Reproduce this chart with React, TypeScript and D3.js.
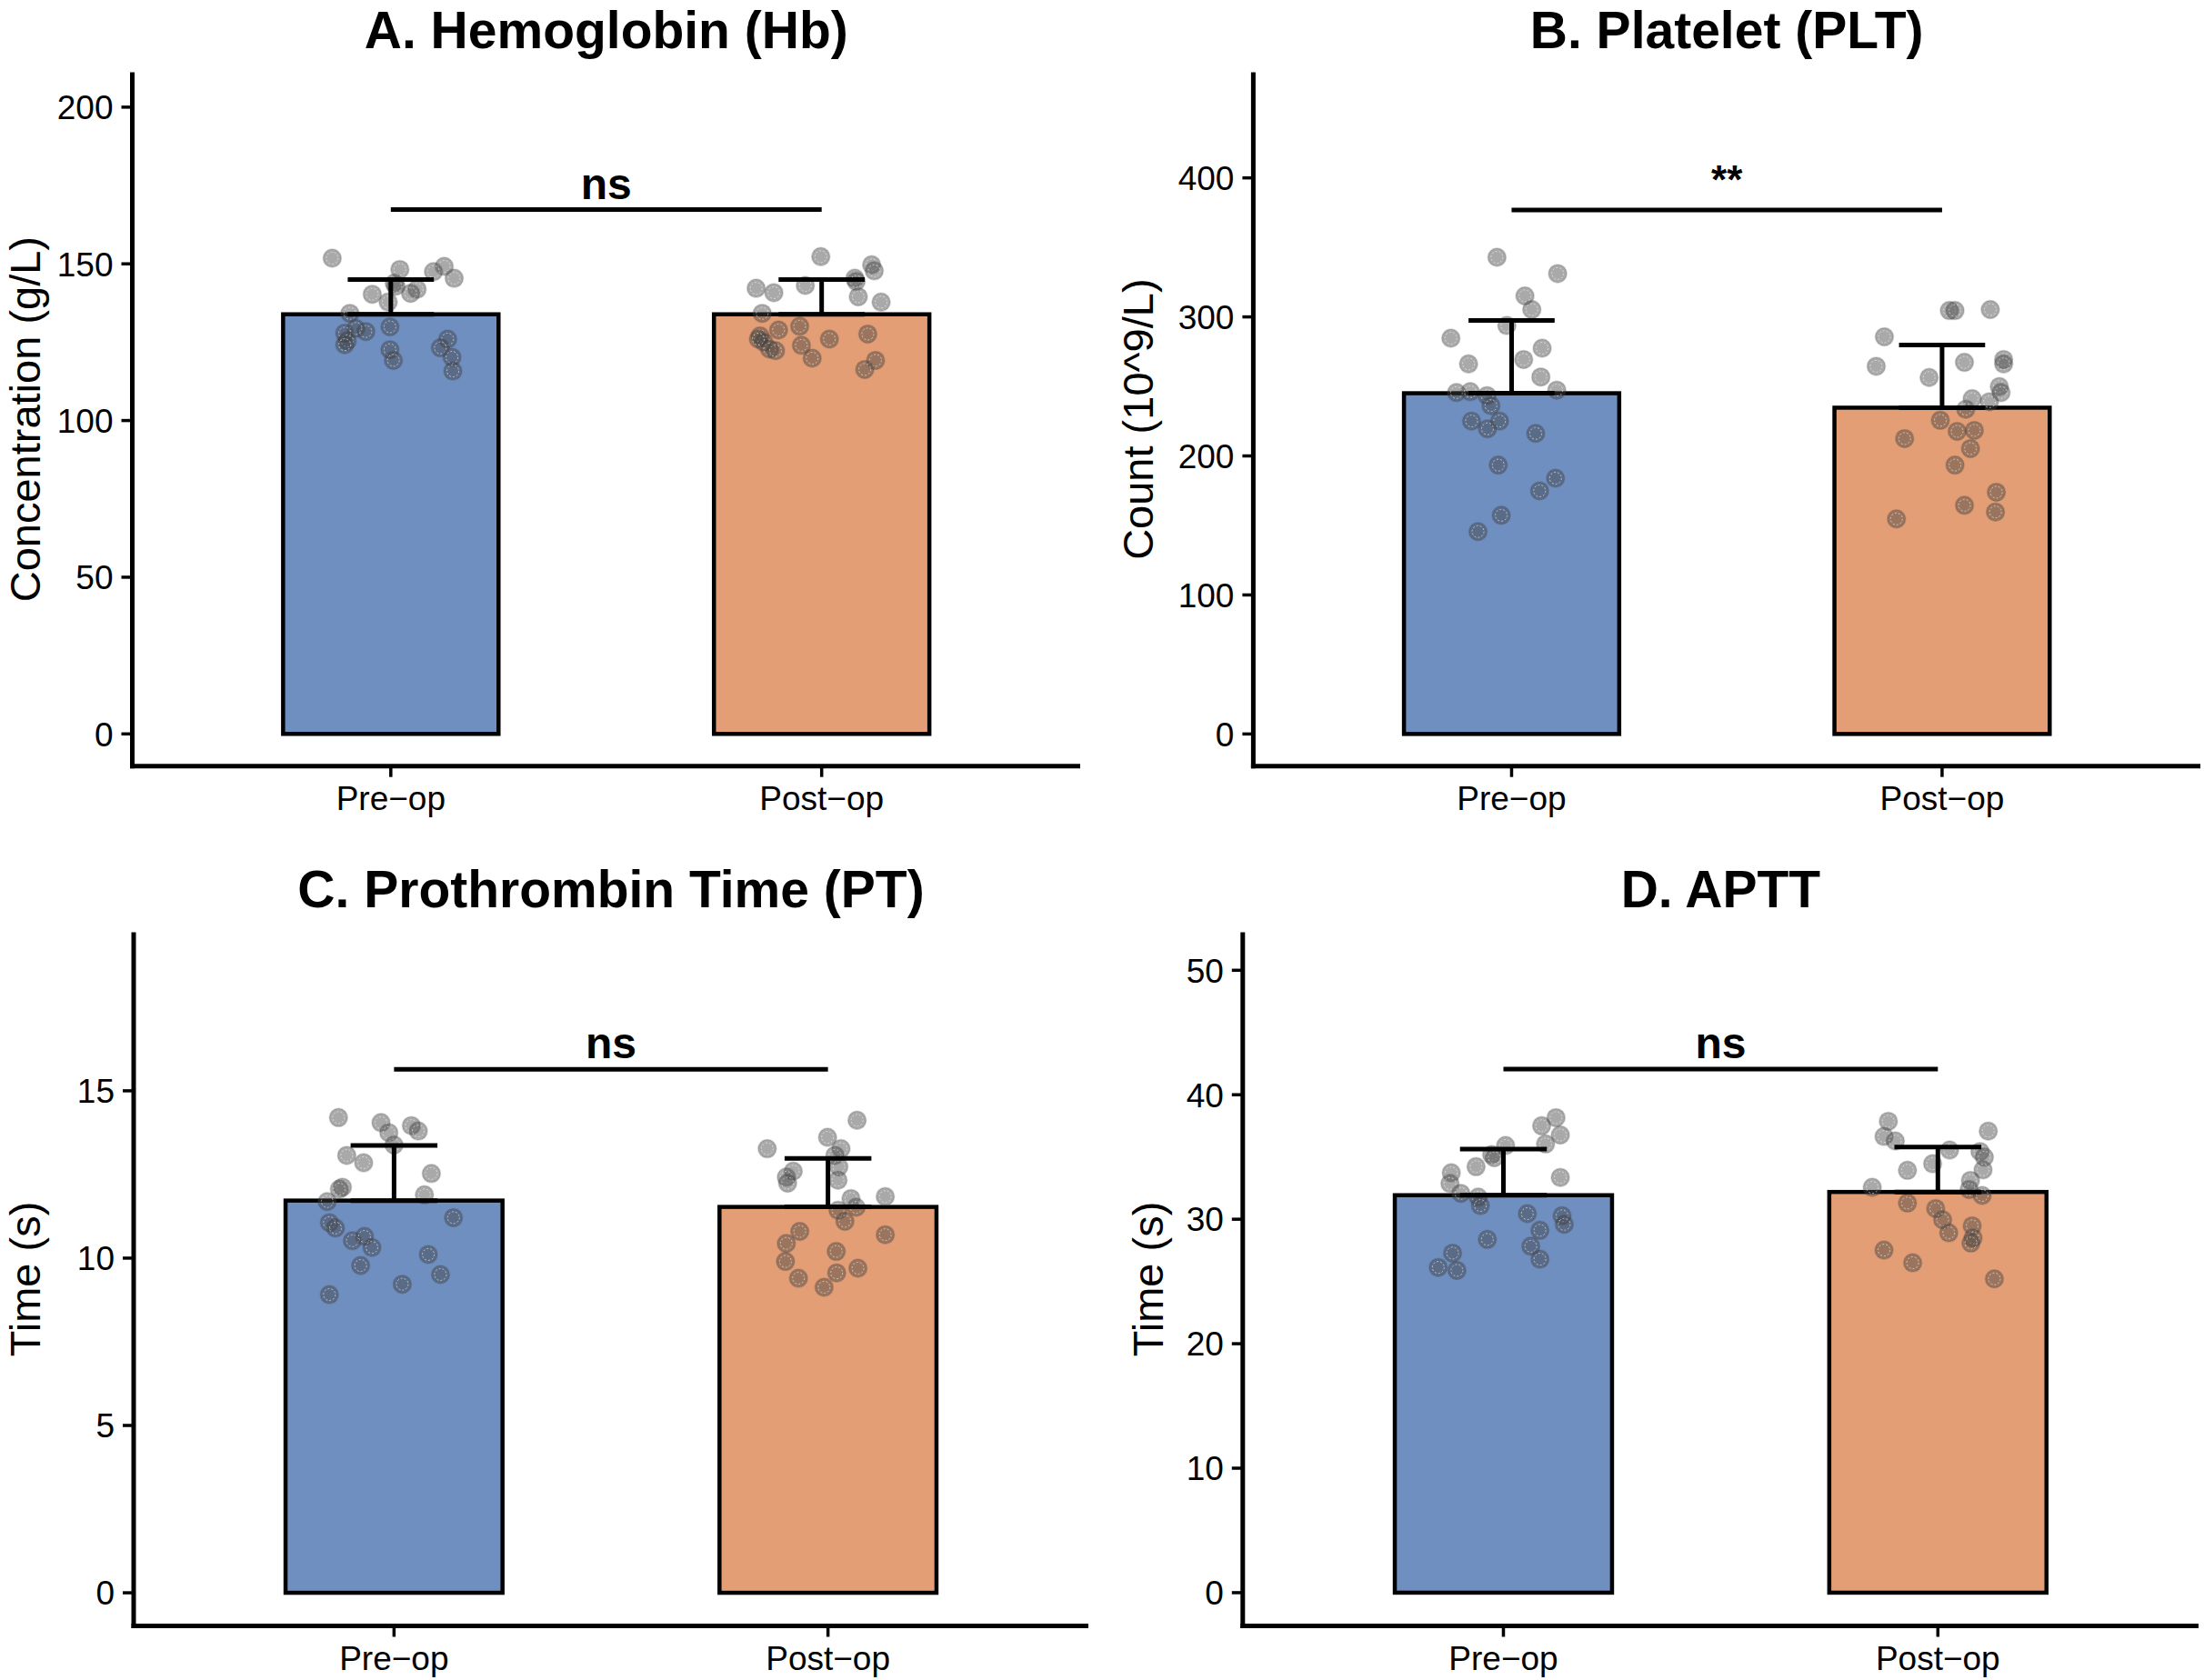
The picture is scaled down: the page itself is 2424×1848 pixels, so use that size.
import * as d3 from 'd3';

// ---- data ----
const groups = ['Pre−op', 'Post−op'];
const titles = ['A. Hemoglobin (Hb)', 'B. Platelet (PLT)', 'C. Prothrombin Time (PT)', 'D. APTT'];
const yTitles = ['Concentration (g/L)', 'Count (10^9/L)', 'Time (s)', 'Time (s)'];

// bar heights (group means) and top of the error bar (mean + SD)
const means = [
  [133.9, 133.9],
  [245.1, 234.7],
  [11.72, 11.53],
  [31.93, 32.19],
];
const upper = [
  [145.0, 145.0],
  [297.5, 279.8],
  [13.37, 12.98],
  [35.63, 35.8],
];

const sigLabels = ['ns', '**', 'ns', 'ns'];
const sigLevels = [167.3, 376.9, 15.64, 42.07];

const yTicks = [
  [0, 50, 100, 150, 200],
  [0, 100, 200, 300, 400],
  [0, 5, 10, 15],
  [0, 10, 20, 30, 40, 50],
];
const yDomains = [
  [-10.27, 211.1],
  [-23.1, 475.9],
  [-0.99, 19.74],
  [-2.67, 53.06],
];

// individual patients
const hbPre = [151.8, 148.2, 149.2, 147.5, 145.4, 143.8, 140.3, 141.9, 140.6, 137.8, 134.2, 129.9, 128.4, 129.4, 127.9, 125.4, 124.2, 126.0, 123.2, 122.6, 120.2, 119.2, 115.8, 142.9];
const hbPreJit = [-0.136, 0.021, 0.124, 0.099, 0.147, 0.008, -0.043, 0.061, 0.046, -0.006, -0.095, -0.002, -0.058, -0.081, -0.107, -0.101, -0.107, 0.132, 0.115, -0.002, 0.142, 0.006, 0.144, 0.012];
const hbPost = [152.3, 149.7, 147.8, 145.4, 139.5, 143.1, 142.2, 140.8, 137.8, 134.2, 128.9, 130.1, 127.0, 125.0, 122.8, 122.3, 126.0, 127.6, 124.0, 119.9, 119.2, 116.3, 144.4, 126.0];
const hbPostJit = [-0.002, 0.116, 0.122, 0.077, 0.085, -0.038, -0.152, -0.111, 0.138, -0.138, -0.1, -0.051, -0.143, -0.134, -0.121, -0.107, 0.018, 0.107, -0.047, -0.022, 0.125, 0.1, 0.08, -0.147];

const pltPre = [342.9, 331.2, 315.1, 305.3, 293.8, 284.7, 277.5, 266.2, 269.4, 256.8, 247.3, 245.6, 246.2, 243.4, 236.2, 225.1, 225.1, 219.5, 216.2, 193.4, 184.0, 174.9, 157.3, 145.6];
const pltPreJit = [-0.034, 0.107, 0.031, 0.047, -0.011, -0.141, 0.071, -0.1, 0.028, 0.068, 0.105, -0.128, -0.096, -0.057, -0.048, -0.093, -0.028, -0.056, 0.056, -0.031, 0.102, 0.065, -0.024, -0.078];
const pltPost = [304.6, 304.6, 305.3, 285.7, 264.5, 267.3, 269.4, 266.2, 256.4, 249.9, 245.6, 241.2, 239.0, 233.6, 225.6, 217.7, 218.4, 212.5, 205.3, 193.4, 173.9, 164.5, 159.7, 154.7];
const pltPostJit = [0.017, 0.03, 0.112, -0.134, -0.153, 0.052, 0.143, 0.143, -0.03, 0.133, 0.137, 0.07, 0.11, 0.055, -0.004, 0.035, 0.075, -0.087, 0.066, 0.03, 0.126, 0.052, 0.124, -0.106];

const ptPre = [14.2, 14.05, 13.96, 13.8, 13.75, 13.38, 13.07, 12.85, 12.53, 12.12, 12.06, 11.69, 11.89, 11.06, 10.9, 10.52, 10.65, 10.32, 11.21, 10.11, 9.78, 9.51, 9.22, 8.91];
const ptPreJit = [-0.128, -0.03, 0.04, 0.056, -0.012, 0.0, -0.109, -0.07, 0.086, -0.119, -0.126, -0.154, 0.07, -0.149, -0.135, -0.096, -0.068, -0.051, 0.137, 0.079, -0.077, 0.107, 0.019, -0.149];
const ptPost = [14.12, 13.61, 13.27, 13.27, 13.07, 12.73, 12.6, 12.42, 12.24, 12.33, 11.84, 11.78, 11.52, 11.43, 11.1, 10.8, 10.7, 10.44, 10.2, 9.9, 9.7, 9.56, 9.4, 9.13];
const ptPostJit = [0.067, -0.001, 0.03, -0.14, 0.016, 0.025, -0.08, -0.096, -0.093, 0.023, 0.132, 0.053, 0.065, 0.023, 0.039, -0.065, 0.132, -0.096, 0.019, -0.098, 0.069, 0.02, -0.068, -0.009];

const apttPre = [38.16, 37.51, 36.77, 36.05, 35.92, 35.19, 34.22, 33.73, 32.87, 32.08, 31.78, 31.1, 33.36, 30.45, 30.28, 29.59, 29.11, 28.38, 27.83, 27.28, 26.79, 26.13, 25.89, 34.94];
const apttPreJit = [0.121, 0.088, 0.131, 0.097, 0.005, -0.027, -0.063, -0.12, -0.123, -0.098, -0.058, -0.053, 0.131, 0.055, 0.135, 0.14, 0.084, -0.037, 0.063, -0.117, 0.084, -0.15, -0.107, -0.021];
const apttPost = [37.87, 37.08, 36.65, 36.29, 35.56, 35.44, 34.99, 34.46, 33.93, 33.97, 33.12, 32.56, 32.39, 31.91, 31.3, 30.86, 29.96, 29.47, 28.91, 28.5, 28.09, 27.52, 26.5, 25.21];
const apttPostJit = [-0.114, 0.116, -0.124, -0.098, 0.027, 0.097, 0.107, -0.012, -0.07, 0.104, 0.075, -0.151, 0.072, 0.102, -0.07, -0.005, 0.011, 0.079, 0.025, 0.081, 0.076, -0.124, -0.058, 0.13];

const points = [
  [[hbPre, hbPreJit], [hbPost, hbPostJit]],
  [[pltPre, pltPreJit], [pltPost, pltPostJit]],
  [[ptPre, ptPreJit], [ptPost, ptPostJit]],
  [[apttPre, apttPreJit], [apttPost, apttPostJit]],
];

// ---- layout ----
const W = 2424;
const H = 1848;
const panels = [
  { left: 145.5, right: 1188, top: 79.6, bottom: 842.7, yTitleX: 44 },
  { left: 1378.4, right: 2420, top: 79.6, bottom: 842.7, yTitleX: 1268 },
  { left: 147, right: 1197, top: 1025.4, bottom: 1788.5, yTitleX: 44 },
  { left: 1366.8, right: 2418, top: 1025.4, bottom: 1788.5, yTitleX: 1279 },
];
const fills = ['#6f8fc1', '#e49e76'];
const font = '"Liberation Sans", Arial, Helvetica, sans-serif';
const lw = 5;
const tickLen = 12;

function Panel({ i }: { i: number }) {
  const p = panels[i];
  // discrete positions 1, 2 with ggplot's 0.6 additive expansion
  const x = d3.scaleLinear([0.4, 2.6], [p.left, p.right]);
  const y = d3.scaleLinear(yDomains[i], [p.bottom, p.top]);
  const barW = 0.5;
  const capW = 0.2;
  const cx = (p.left + p.right) / 2;
  const cy = (p.top + p.bottom) / 2;
  const stars = sigLabels[i] === '**';

  return (
    <g>
      <text x={cx} y={p.top - 27} textAnchor="middle" fontFamily={font} fontWeight="bold" fontSize={57}>
        {titles[i]}
      </text>

      {/* bars */}
      {means[i].map((m, g) => (
        <rect
          key={g}
          x={x(g + 1 - barW / 2)}
          y={y(m)}
          width={x(g + 1 + barW / 2) - x(g + 1 - barW / 2)}
          height={y(0) - y(m)}
          fill={fills[g]}
          stroke="#000"
          strokeWidth={4.5}
        />
      ))}

      {/* jittered points */}
      {points[i].map(([vals, jit], g) =>
        vals.map((v, k) => (
          <g key={`${g}-${k}`}>
            <circle cx={x(g + 1 + jit[k])} cy={y(v)} r={10} fill="#404040" fillOpacity={0.45} stroke="#404040" strokeOpacity={0.2} strokeWidth={1.5} />
            <circle cx={x(g + 1 + jit[k])} cy={y(v)} r={6.5} fill="none" stroke="#fff" strokeOpacity={0.55} strokeWidth={1} strokeDasharray="2 2" />
          </g>
        )),
      )}

      {/* error bars: mean to mean + SD */}
      {means[i].map((m, g) => (
        <g key={g} stroke="#000" strokeWidth={lw} fill="none">
          <line x1={x(g + 1)} x2={x(g + 1)} y1={y(m)} y2={y(upper[i][g])} />
          <line x1={x(g + 1 - capW / 2)} x2={x(g + 1 + capW / 2)} y1={y(upper[i][g])} y2={y(upper[i][g])} />
          <line x1={x(g + 1 - capW / 2)} x2={x(g + 1 + capW / 2)} y1={y(m)} y2={y(m)} />
        </g>
      ))}

      {/* significance bar */}
      <line x1={x(1)} x2={x(2)} y1={y(sigLevels[i])} y2={y(sigLevels[i])} stroke="#000" strokeWidth={lw} />
      <text
        x={x(1.5)}
        y={y(sigLevels[i]) - 12}
        dy={stars ? -6 : 0}
        textAnchor="middle"
        fontFamily={font}
        fontWeight="bold"
        fontSize={stars ? 44 : 48}
      >
        {sigLabels[i]}
      </text>

      {/* axes */}
      <line x1={p.left} x2={p.left} y1={p.top} y2={p.bottom + lw / 2} stroke="#000" strokeWidth={lw} />
      <line x1={p.left - lw / 2} x2={p.right} y1={p.bottom} y2={p.bottom} stroke="#000" strokeWidth={lw} />

      {yTicks[i].map((t) => (
        <g key={t}>
          <line x1={p.left - tickLen} x2={p.left} y1={y(t)} y2={y(t)} stroke="#000" strokeWidth={3.5} />
          <text x={p.left - tickLen - 9} y={y(t)} dy="0.36em" textAnchor="end" fontFamily={font} fontSize={37} fill="#000">
            {t}
          </text>
        </g>
      ))}

      {groups.map((name, g) => (
        <g key={name}>
          <line x1={x(g + 1)} x2={x(g + 1)} y1={p.bottom} y2={p.bottom + tickLen} stroke="#000" strokeWidth={3.5} />
          <text x={x(g + 1)} y={p.bottom + 48} textAnchor="middle" fontFamily={font} fontSize={37} fill="#000">
            {name}
          </text>
        </g>
      ))}

      <text
        transform={`translate(${p.yTitleX},${cy}) rotate(-90)`}
        textAnchor="middle"
        fontFamily={font}
        fontSize={47}
        fill="#000"
      >
        {yTitles[i]}
      </text>
    </g>
  );
}

export default function App() {
  return (
    <svg width={W} height={H} style={{ position: 'absolute', left: 0, top: 0, background: '#fff' }}>
      <rect width={W} height={H} fill="#fff" />
      {panels.map((_, i) => (
        <Panel key={i} i={i} />
      ))}
    </svg>
  );
}
